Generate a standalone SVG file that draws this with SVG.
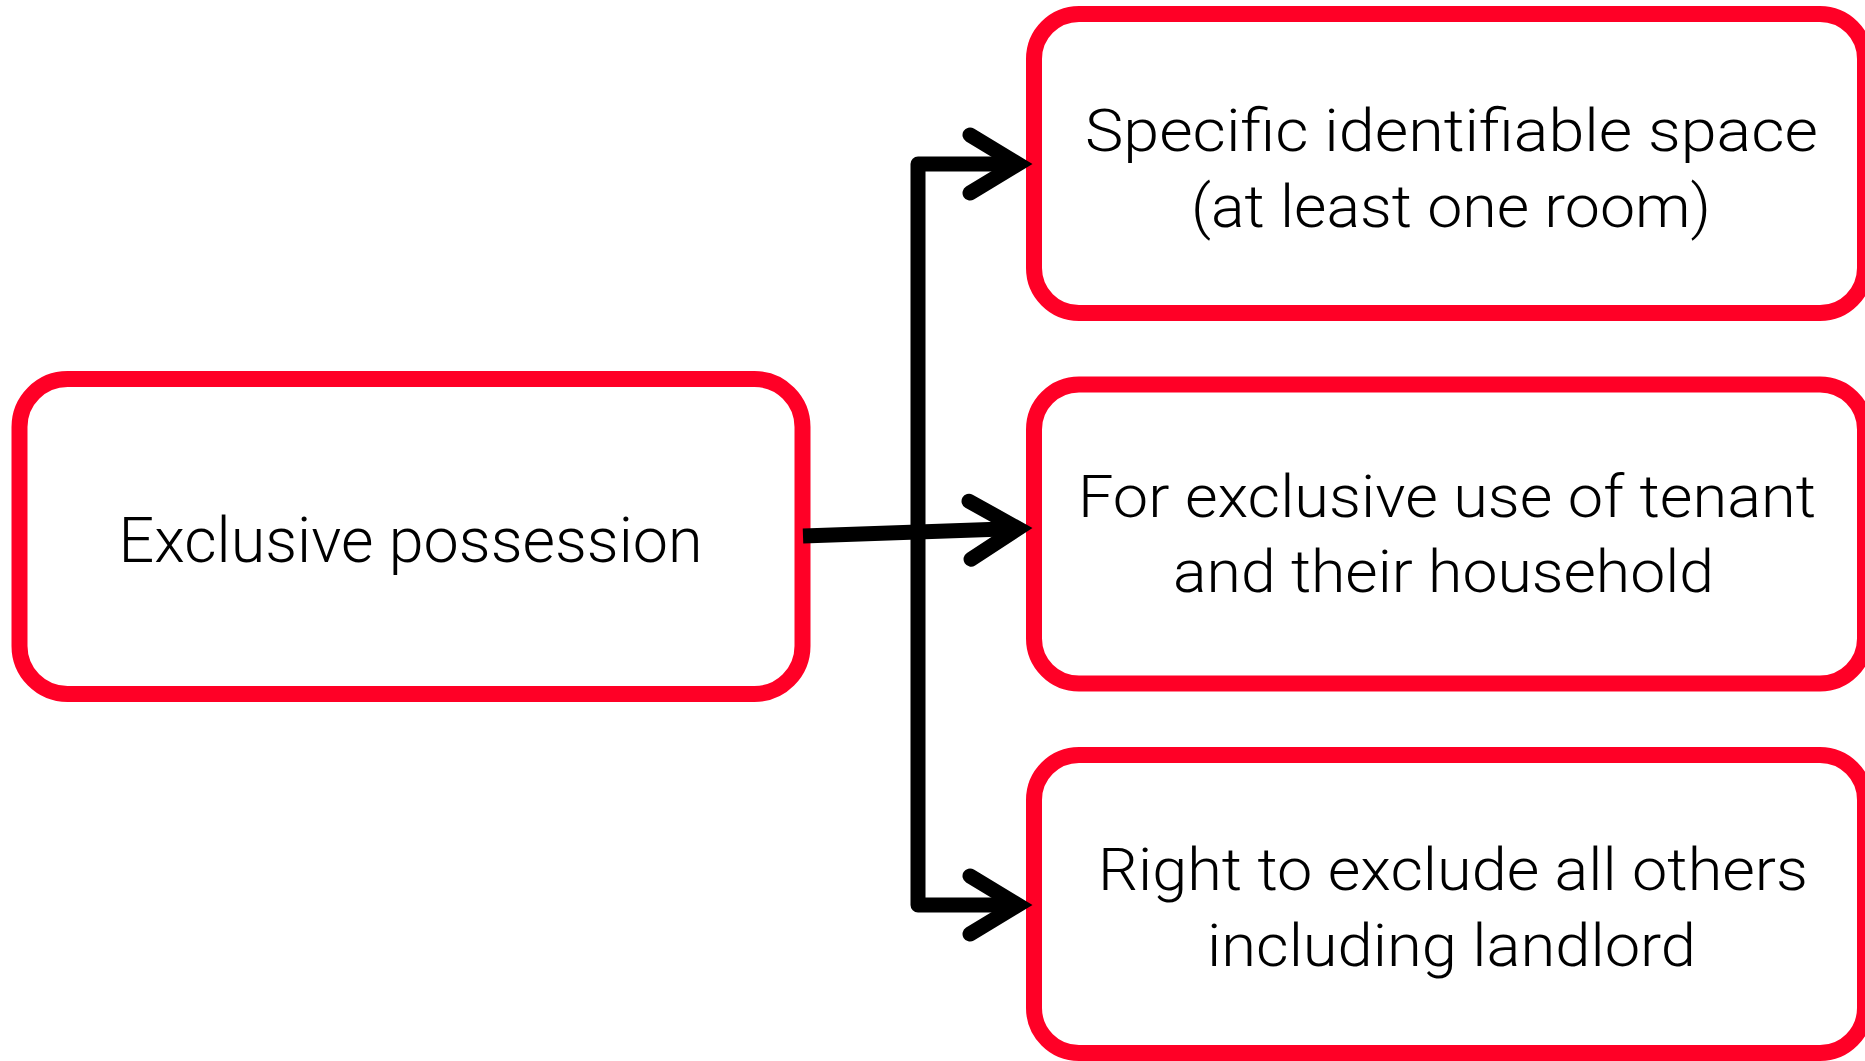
<svg xmlns="http://www.w3.org/2000/svg" width="1865" height="1061" viewBox="0 0 1865 1061">
  <style>
    .box { fill: #ffffff; stroke: #FF0026; stroke-width: 16; }
    .lbl { font-family: Roboto, "Liberation Sans", sans-serif; font-weight: 300; fill: #000000; text-anchor: middle; }
    .conn { fill: none; stroke: #000000; stroke-width: 15; stroke-linejoin: round; }
  </style>
  <defs>
    <marker id="chev" markerUnits="userSpaceOnUse" viewBox="-60 -40 80 80" refX="0" refY="0" markerWidth="80" markerHeight="80" orient="auto" overflow="visible">
      <path d="M -48 -29 L 0 0 L -48 29" fill="none" stroke="#000000" stroke-width="15" stroke-linecap="round" stroke-linejoin="miter" stroke-miterlimit="10"/>
    </marker>
  </defs>
  <rect width="1865" height="1061" fill="#ffffff"/>

  <g id="node-exclusive-possession">
    <rect class="box" x="19.5" y="379" width="783" height="315" rx="48" ry="48"/>
    <text class="lbl" x="410.5" y="562" font-size="63" textLength="584" lengthAdjust="spacingAndGlyphs">Exclusive possession</text>
  </g>

  <g id="node-specific-space">
    <rect class="box" x="1034" y="14" width="831" height="299" rx="45" ry="45"/>
    <text class="lbl" x="1451.5" y="151" font-size="60" textLength="733" lengthAdjust="spacingAndGlyphs">Specific identifiable space</text>
    <text class="lbl" x="1451" y="227" font-size="60" textLength="520" lengthAdjust="spacingAndGlyphs">(at least one room)</text>
  </g>

  <g id="node-exclusive-use">
    <rect class="box" x="1034" y="384.5" width="831" height="299" rx="45" ry="45"/>
    <text class="lbl" x="1447" y="517" font-size="60" textLength="738" lengthAdjust="spacingAndGlyphs">For exclusive use of tenant</text>
    <text class="lbl" x="1443.5" y="592" font-size="60" textLength="541" lengthAdjust="spacingAndGlyphs">and their household</text>
  </g>

  <g id="node-right-to-exclude">
    <rect class="box" x="1034" y="755" width="831" height="298" rx="45" ry="45"/>
    <text class="lbl" x="1453" y="890" font-size="60" textLength="710" lengthAdjust="spacingAndGlyphs">Right to exclude all others</text>
    <text class="lbl" x="1451.5" y="966" font-size="60" textLength="489" lengthAdjust="spacingAndGlyphs">including landlord</text>
  </g>

  <g id="connectors">
    <path class="conn" d="M 918 536 L 918 164 L 1018 164" marker-end="url(#chev)"/>
    <path class="conn" d="M 918 536 L 918 905 L 1018 905" marker-end="url(#chev)"/>
    <path class="conn" d="M 803 536 L 1018 528.5" marker-end="url(#chev)"/>
  </g>
</svg>
